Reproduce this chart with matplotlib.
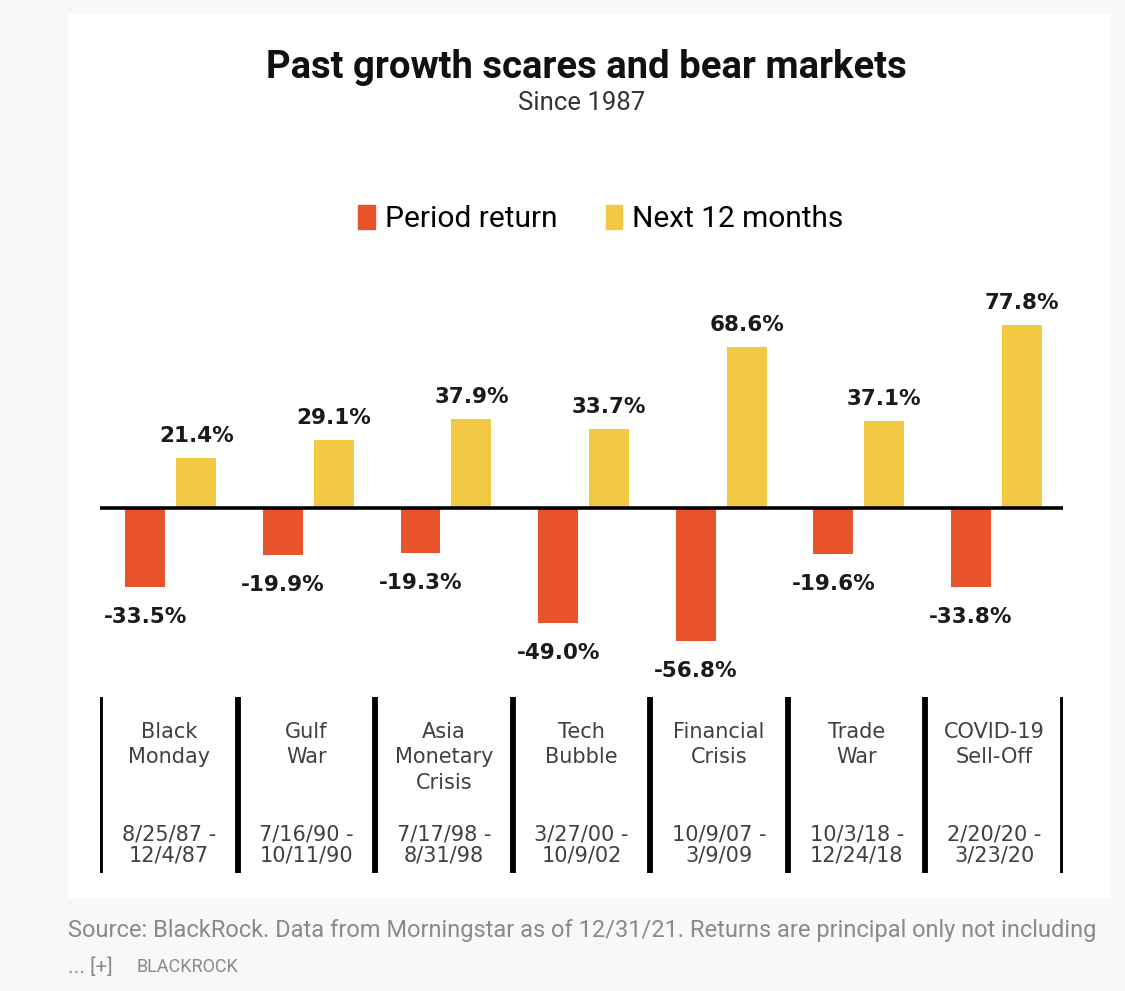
import matplotlib.pyplot as plt
from matplotlib.patches import Patch

events = ["Black\nMonday", "Gulf\nWar", "Asia\nMonetary\nCrisis", "Tech\nBubble",
          "Financial\nCrisis", "Trade\nWar", "COVID-19\nSell-Off"]
dates = ["8/25/87 -\n12/4/87", "7/16/90 -\n10/11/90", "7/17/98 -\n8/31/98",
         "3/27/00 -\n10/9/02", "10/9/07 -\n3/9/09", "10/3/18 -\n12/24/18",
         "2/20/20 -\n3/23/20"]
period_return = [-33.5, -19.9, -19.3, -49.0, -56.8, -19.6, -33.8]
next_12m = [21.4, 29.1, 37.9, 33.7, 68.6, 37.1, 77.8]

RED = "#e8532b"
YELLOW = "#f2c942"
SANS = "Roboto"
W, H = 1125, 991

fig = plt.figure(figsize=(W / 100, H / 100), dpi=100)
fig.patch.set_facecolor("#f8f8f8")

def fx(px):
    return px / W

def fy(py):
    return 1 - py / H

# white card behind the chart
bg = fig.add_axes([fx(68), fy(898), fx(1110) - fx(68), fy(14) - fy(898)], zorder=0)
bg.set_facecolor("white")
bg.set_xticks([])
bg.set_yticks([])
for s in bg.spines.values():
    s.set_visible(False)

# bar axes: zero line at y=508px, 2.35 px per percent
ymin, ymax = -65, 93
top_px = 508 - ymax * 2.35
bot_px = 508 - ymin * 2.35
ax = fig.add_axes([fx(100), fy(bot_px), fx(1063) - fx(100), fy(top_px) - fy(bot_px)], zorder=2)
ax.set_xlim(0, 7)
ax.set_ylim(ymin, ymax)
ax.axis("off")

xs = range(len(events))
bw = 0.29
red_x = [i + 0.33 for i in xs]
yel_x = [i + 0.70 for i in xs]
ax.bar(red_x, period_return, width=bw, color=RED, zorder=2)
ax.bar(yel_x, next_12m, width=bw, color=YELLOW, zorder=2)
ax.axhline(0, color="black", lw=2.6, zorder=3)

lab = dict(fontsize=15.5, fontweight="bold", family="DejaVu Sans", color="#1a1a1a", ha="center")
for x, v in zip(red_x, period_return):
    ax.text(x, v - 8.5, f"{v:.1f}%", va="top", **lab)
for x, v in zip(yel_x, next_12m):
    ax.text(x, v + 5, f"{v:.1f}%", va="bottom", **lab)

# event table below the bars
tax = fig.add_axes([fx(100), fy(873), fx(1063) - fx(100), fy(697) - fy(873)], zorder=2)
tax.set_xlim(0, 7)
tax.set_ylim(0, 1)
tax.axis("off")
for i in range(8):
    tax.axvline(i, color="black", lw=4.2)
for i, (name, d) in enumerate(zip(events, dates)):
    tax.text(i + 0.5, 0.86, name, ha="center", va="top", fontsize=15,
             family="DejaVu Sans", color="#404040", linespacing=1.35)
    tax.text(i + 0.5, 0.045, d, ha="center", va="bottom", fontsize=15,
             family="DejaVu Sans", color="#404040", linespacing=1.05)

fig.text(fx(586), fy(67), "Past growth scares and bear markets", ha="center", va="center",
         fontsize=27.5, fontweight="bold", family=SANS, color="#111111")
fig.text(fx(582), fy(103), "Since 1987", ha="center", va="center",
         fontsize=18.5, family=SANS, color="#333333")

handles = [Patch(color=RED, label="Period return"), Patch(color=YELLOW, label="Next 12 months")]
fig.legend(handles=handles, loc="center", bbox_to_anchor=(fx(601), fy(219)), ncol=2,
           frameon=False, prop={"family": SANS, "size": 21.5}, handlelength=0.55,
           handleheight=0.9, handletextpad=0.35, columnspacing=1.6)

fig.text(fx(68), fy(930), "Source: BlackRock. Data from Morningstar as of 12/31/21. "
         "Returns are principal only not including", ha="left", va="center",
         fontsize=17, family=SANS, color="#8a8a8a")
fig.text(fx(68), fy(967), "... [+]", ha="left", va="center", fontsize=15,
         family=SANS, color="#8a8a8a")
fig.text(fx(137), fy(967), "BLACKROCK", ha="left", va="center", fontsize=13,
         family=SANS, color="#8a8a8a")

fig.savefig("out.png", dpi=100, facecolor=fig.get_facecolor())
